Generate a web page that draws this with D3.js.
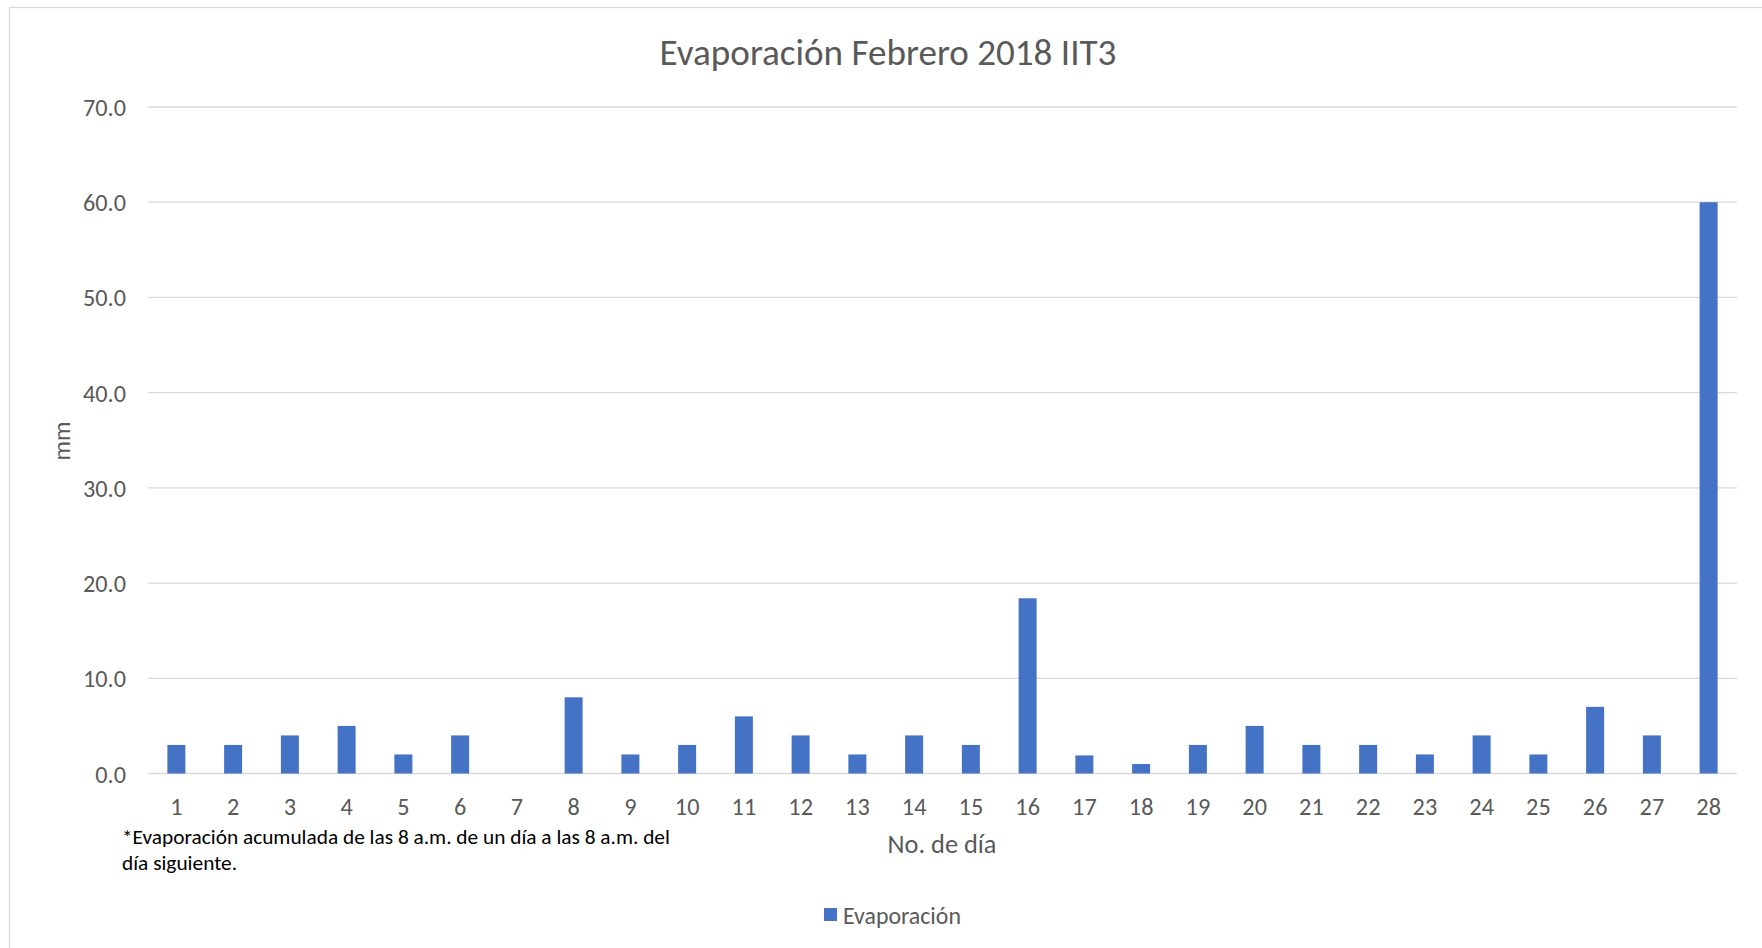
<!DOCTYPE html>
<html>
<head>
<meta charset="utf-8">
<script src="https://cdn.jsdelivr.net/npm/d3@7"></script>
<style>
  html, body { margin: 0; padding: 0; background: #fff; }
  svg text { font-family: Carlito, Calibri, "Open Sans", sans-serif; }
</style>
</head>
<body>
<div id="chart"></div>
<script>
// data
const days = d3.range(1, 29).map(String);
const evaporacion = [3, 3, 4, 5, 2, 4, 0, 8, 2, 3, 6, 4, 2, 4, 3, 18.4, 1.9, 1.0, 3, 5, 3, 3, 2, 4, 2, 7, 4, 60];
const yTicks = [0, 10, 20, 30, 40, 50, 60, 70];

const title = "Evaporación Febrero 2018 IIT3";
const xTitle = "No. de día";
const yTitle = "mm";
const seriesName = "Evaporación";
const note = ["*Evaporación acumulada de las 8 a.m. de un día a las 8 a.m. del", "día siguiente."];

const W = 1762, H = 948;
const textColor = "#595959";
const barColor = "#4472C4";
const gridColor = "#D9D9D9";

const svg = d3.select("#chart")
    .append("svg")
    .attr("width", W)
    .attr("height", H);

// outer chart border (only top and left show in the crop)
svg.append("rect")
    .attr("x", 9.5).attr("y", 7.5)
    .attr("width", 1900).attr("height", 1100)
    .attr("fill", "#fff")
    .attr("stroke", gridColor)
    .attr("stroke-width", 1.3);

const x = d3.scaleBand()
    .domain(days)
    .range([148, 1737])
    .paddingInner(0.683)
    .paddingOuter(0.3415);

const y = d3.scaleLinear()
    .domain([0, 70])
    .range([773.5, 107]);

// scale a text's font-size until it spans the wanted width
function fitText(sel, width) {
    sel.attr("font-size", 20);
    const len = sel.node().getComputedTextLength();
    const size = 20 * width / len;
    sel.attr("font-size", size);
    return size;
}

// gridlines
svg.append("g")
    .selectAll("line")
    .data(yTicks)
    .enter()
    .append("line")
    .attr("x1", 148)
    .attr("x2", 1737)
    .attr("y1", d => y(d))
    .attr("y2", d => y(d))
    .attr("stroke", gridColor)
    .attr("stroke-width", 1.3);

// bars
svg.append("g")
    .selectAll("rect")
    .data(evaporacion)
    .enter()
    .append("rect")
    .attr("x", (d, i) => x(days[i]))
    .attr("y", d => y(d))
    .attr("width", x.bandwidth())
    .attr("height", d => y(0) - y(d))
    .attr("fill", barColor);

// tick label size taken from "70.0" width
const probe = svg.append("text").text("70.0");
const tickSize = fitText(probe, 43);
probe.remove();

const yAxis = svg.append("g")
    .attr("transform", "translate(126,0)")
    .call(d3.axisLeft(y).tickValues(yTicks).tickFormat(d3.format(".1f")).tickSize(0).tickPadding(0));
yAxis.select(".domain").remove();
yAxis.selectAll("text")
    .attr("fill", textColor)
    .attr("font-size", tickSize)
    .attr("dy", "0.35em");

const xAxis = svg.append("g")
    .attr("transform", "translate(0,806)")
    .call(d3.axisBottom(x).tickSize(0).tickPadding(0));
xAxis.select(".domain").remove();
xAxis.selectAll("text")
    .attr("fill", textColor)
    .attr("font-size", tickSize)
    .attr("dy", "0.35em");

// title
const t = svg.append("text")
    .attr("x", 888)
    .attr("y", 52)
    .attr("text-anchor", "middle")
    .attr("dominant-baseline", "central")
    .attr("fill", textColor)
    .text(title);
fitText(t, 457);

// axis titles
const xt = svg.append("text")
    .attr("x", 942)
    .attr("y", 844)
    .attr("text-anchor", "middle")
    .attr("dominant-baseline", "central")
    .attr("fill", textColor)
    .text(xTitle);
fitText(xt, 109);

const yt = svg.append("text")
    .attr("transform", "translate(62,441) rotate(-90)")
    .attr("text-anchor", "middle")
    .attr("dominant-baseline", "central")
    .attr("fill", textColor)
    .text(yTitle);
fitText(yt, 39);

// footnote
const n1 = svg.append("text")
    .attr("x", 122)
    .attr("y", 837)
    .attr("dominant-baseline", "central")
    .attr("fill", "#000")
    .text(note[0]);
const noteSize = fitText(n1, 548);
svg.append("text")
    .attr("x", 122)
    .attr("y", 863)
    .attr("dominant-baseline", "central")
    .attr("fill", "#000")
    .attr("font-size", noteSize)
    .text(note[1]);

// legend
svg.append("rect")
    .attr("x", 824)
    .attr("y", 908)
    .attr("width", 13)
    .attr("height", 13)
    .attr("fill", barColor);
const lg = svg.append("text")
    .attr("x", 843)
    .attr("y", 915)
    .attr("dominant-baseline", "central")
    .attr("fill", textColor)
    .text(seriesName);
fitText(lg, 118);
</script>
</body>
</html>
